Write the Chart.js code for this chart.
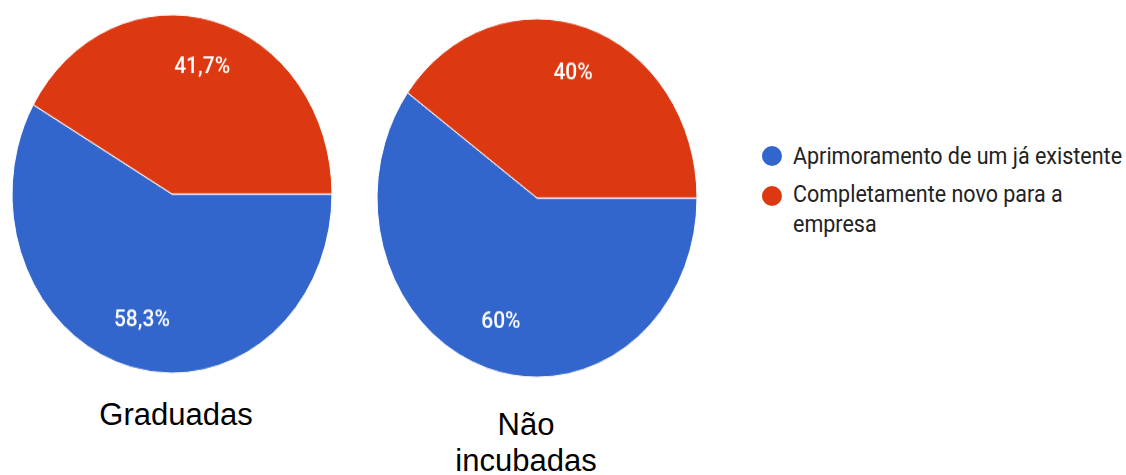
<!DOCTYPE html>
<html>
<head>
<meta charset="utf-8">
<script src="https://cdn.jsdelivr.net/npm/chart.js@4.4.1/dist/chart.umd.min.js"></script>
<style>
  body { margin: 0; background: #fff; width: 1126px; height: 475px; overflow: hidden; position: relative; }
  .pie { position: absolute; width: 340px; height: 340px; transform: scaleY(1.12); }
  .dot { position: absolute; width: 20px; height: 20px; border-radius: 50%; }
  .leg { position: absolute; left: 793px; font-family: Roboto, sans-serif; font-size: 21.5px; line-height: 26px; color: #222; transform-origin: top left; transform: scaleY(1.12); }
  .cap { position: absolute; width: 200px; text-align: center; font-family: "Liberation Sans", Arial, sans-serif; font-size: 31px; line-height: 36px; color: #000; }
</style>
</head>
<body>
<div class="pie" style="left:2px; top:24px;"><canvas id="pieGrad"></canvas></div>
<div class="pie" style="left:366.5px; top:28px;"><canvas id="pieNao"></canvas></div>

<div id="legend"></div>

<div class="cap" style="left:76px; top:397px;">Graduadas</div>
<div class="cap" style="left:426px; top:407px;">Não incubadas</div>

<script>
  // dados
  const categories = ["Aprimoramento de um já existente", "Completamente novo para a empresa"];
  const graduadas = [58.3, 41.7];
  const naoIncubadas = [60, 40];
  const colors = ["#3366CC", "#DC3912"];

  // rótulos de porcentagem dentro das fatias
  const sliceLabels = {
    id: "sliceLabels",
    afterDatasetsDraw(chart) {
      const ctx = chart.ctx;
      const meta = chart.getDatasetMeta(0);
      const values = chart.data.datasets[0].data;
      ctx.save();
      ctx.fillStyle = "#fff";
      ctx.font = "500 21px Roboto";
      ctx.textAlign = "center";
      ctx.textBaseline = "middle";
      meta.data.forEach((arc, i) => {
        const { x, y, startAngle, endAngle, outerRadius } = arc.getProps(
          ["x", "y", "startAngle", "endAngle", "outerRadius"], true);
        const mid = (startAngle + endAngle) / 2;
        const r = outerRadius * 0.73;
        const txt = values[i].toLocaleString("pt-BR") + "%";
        ctx.fillText(txt, x + Math.cos(mid) * r, y + Math.sin(mid) * r);
      });
      ctx.restore();
    },
  };

  function makePie(id, values) {
    const ctx = document.getElementById(id).getContext("2d");
    return new Chart(ctx, {
      type: "pie",
      data: {
        labels: categories,
        datasets: [
          {
            data: values,
            backgroundColor: colors,
            borderColor: "#fff",
            borderWidth: 1,
          },
        ],
      },
      options: {
        responsive: true,
        maintainAspectRatio: false,
        animation: false,
        rotation: 90,
        radius: 160,
        layout: { padding: 0 },
        plugins: {
          legend: { display: false },
          tooltip: { enabled: false },
        },
        events: [],
      },
      plugins: [sliceLabels],
    });
  }

  makePie("pieGrad", graduadas);
  makePie("pieNao", naoIncubadas);

  // legenda em HTML
  const legend = document.getElementById("legend");
  const rows = [
    { dotTop: 146, textTop: 142.3, style: "white-space:nowrap;" },
    { dotTop: 186, textTop: 180.3, style: "width:300px;" },
  ];
  categories.forEach((c, i) => {
    const dot = document.createElement("div");
    dot.className = "dot";
    dot.style.left = "762px";
    dot.style.top = rows[i].dotTop + "px";
    dot.style.background = colors[i];
    legend.appendChild(dot);
    const t = document.createElement("div");
    t.className = "leg";
    t.style.cssText += "top:" + rows[i].textTop + "px;" + rows[i].style;
    t.textContent = c;
    legend.appendChild(t);
  });
</script>
</body>
</html>
